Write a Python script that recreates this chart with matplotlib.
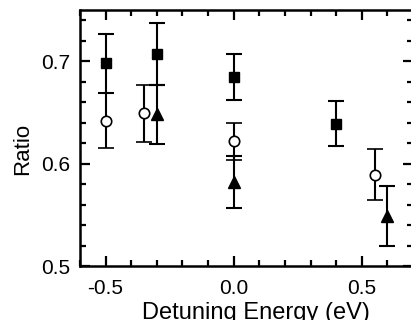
import matplotlib
matplotlib.use("Agg")
import matplotlib.pyplot as plt
from matplotlib.ticker import MultipleLocator

plt.rcParams['font.family'] = ['Liberation Sans', 'DejaVu Sans']

# Series: filled squares
sq_x = [-0.5, -0.3, 0.0, 0.4]
sq_y = [0.698, 0.707, 0.685, 0.639]
sq_err = [0.029, 0.030, 0.0225, 0.022]

# Series: open circles
ci_x = [-0.5, -0.35, 0.0, 0.55]
ci_y = [0.642, 0.649, 0.622, 0.589]
ci_err = [0.027, 0.028, 0.018, 0.025]

# Series: filled triangles
tr_x = [-0.3, 0.0, 0.6]
tr_y = [0.648, 0.582, 0.549]
tr_err = [0.029, 0.025, 0.029]

xticks = [-0.5, 0.0, 0.5]
xticklabels = ['-0.5', '0.0', '0.5']
yticks = [0.5, 0.6, 0.7]
yticklabels = ['0.5', '0.6', '0.7']

fig = plt.figure(figsize=(4.11, 3.2), dpi=100)
ax = fig.add_axes([80/411, 54/320, 333/411, 256/320])

ekw = dict(ecolor='black', elinewidth=1.5, capsize=6, capthick=1.5, linestyle='none')
ax.errorbar(sq_x, sq_y, yerr=sq_err, marker='s', ms=6.5, mfc='black', mec='black', **ekw)
ax.errorbar(ci_x, ci_y, yerr=ci_err, marker='o', ms=7.5, mfc='white', mec='black', mew=1.2, **ekw)
ax.errorbar(tr_x, tr_y, yerr=tr_err, marker='^', ms=8.5, mfc='black', mec='black', **ekw)

ax.set_xlim(-0.6, 0.7)
ax.set_ylim(0.5, 0.75)
ax.set_xticks(xticks)
ax.set_xticklabels(xticklabels)
ax.set_yticks(yticks)
ax.set_yticklabels(yticklabels)
ax.xaxis.set_minor_locator(MultipleLocator(0.1))
ax.yaxis.set_minor_locator(MultipleLocator(0.02))
ax.tick_params(which='both', direction='in', top=True, right=True, width=1.6, labelsize=15)
ax.tick_params(axis='x', which='both', pad=9.5)
ax.tick_params(axis='y', which='both', pad=7)
ax.tick_params(which='major', length=7)
ax.tick_params(which='minor', length=4)
for s in ax.spines.values():
    s.set_linewidth(1.8)

ax.set_xlabel('Detuning Energy (eV)', fontsize=17, labelpad=3)
ax.set_ylabel('Ratio', fontsize=16, labelpad=6)
ax.xaxis.label.set_x(0.527)
ax.yaxis.label.set_y(0.459)

fig.savefig('out.png', dpi=100)
